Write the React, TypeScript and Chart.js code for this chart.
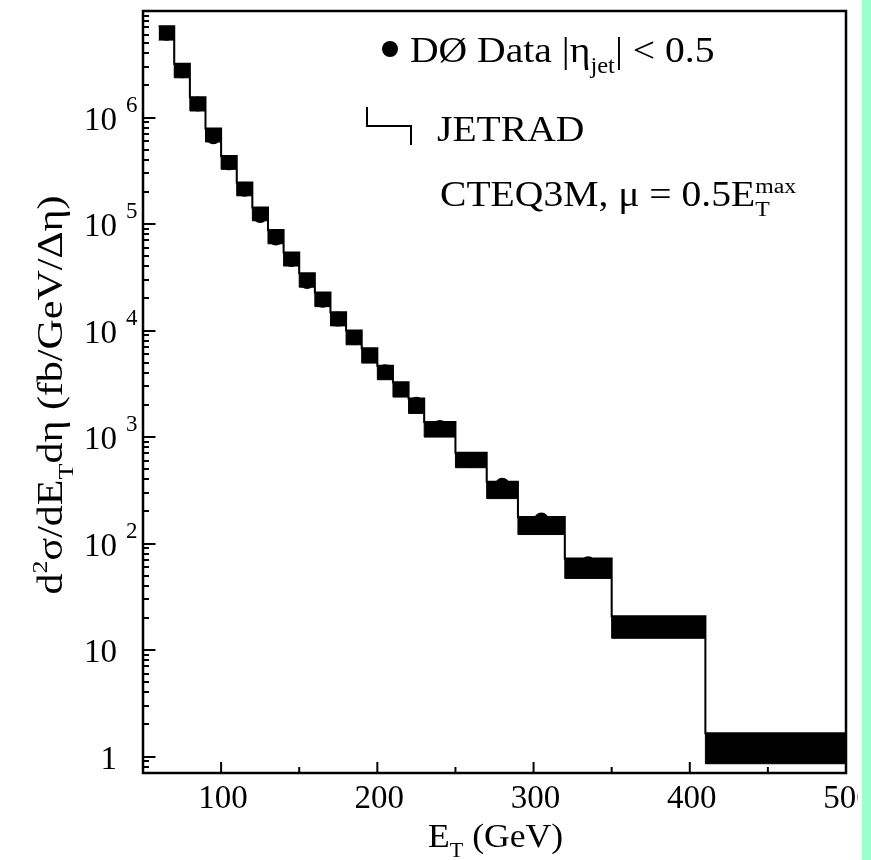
import React, { useEffect, useRef } from "react";
import { Chart, registerables } from "chart.js";

Chart.register(...registerables);

// ---- data ----
const binEdges = [60, 70, 80, 90, 100, 110, 120, 130, 140, 150, 160, 170, 180, 190, 200, 210, 220, 230, 250, 270, 290, 320, 350, 410, 500];
const jetradHigh = [7.2e6, 3.19e6, 1.546e6, 7.88e5, 4.36e5, 2.45e5, 1.428e5, 8.77e4, 5.41e4, 3.45e4, 2.28e4, 1.482e4, 9.98e3, 6.81e3, 4.67e3, 3.27e3, 2.3e3, 1380, 713, 381, 177.5, 72.3, 20.8, 1.657];
const jetradLow = [5.33e6, 2.36e6, 1.151e6, 5.89e5, 3.26e5, 1.84e5, 1.072e5, 6.52e4, 4.03e4, 2.55e4, 1.675e4, 1.105e4, 7.34e3, 4.94e3, 3.45e3, 2.37e3, 1.665e3, 998, 515, 264, 121.4, 47.0, 12.88, 0.855];
const dataET = [65, 75, 85, 95, 105, 115, 125, 135, 145, 155, 165, 175, 185, 195, 205, 215, 225, 240, 260, 280, 305, 335, 380, 455];
const dataXsec = [6.19e6, 2.75e6, 1.339e6, 6.61e5, 3.75e5, 2.12e5, 1.202e5, 7.38e4, 4.65e4, 2.89e4, 1.927e4, 1.279e4, 8.58e3, 5.82e3, 4.09e3, 2.79e3, 2.03e3, 1230, 606, 352, 166, 64.4, 16.4, 1.19];
const xTickLabels = [100, 200, 300, 400, 500];
const xMinorTicks = [150, 250, 350, 450];
const yDecadeExponents = [0, 1, 2, 3, 4, 5, 6];

const FONT = '"Liberation Serif", "Times New Roman", serif';

type Seg = { t: string; size: number; dy?: number; noAdvance?: boolean };

function richWidth(ctx: CanvasRenderingContext2D, segs: Seg[]) {
  let w = 0;
  for (const s of segs) {
    ctx.font = `${s.size}px ${FONT}`;
    if (!s.noAdvance) w += ctx.measureText(s.t).width;
  }
  return w;
}

function drawRich(ctx: CanvasRenderingContext2D, segs: Seg[], x: number, y: number, sx = 1) {
  ctx.save();
  ctx.translate(x, y);
  ctx.scale(sx, 1);
  let cx = 0;
  ctx.textAlign = "left";
  ctx.textBaseline = "alphabetic";
  for (const s of segs) {
    ctx.font = `${s.size}px ${FONT}`;
    ctx.fillText(s.t, cx, s.dy || 0);
    if (!s.noAdvance) cx += ctx.measureText(s.t).width;
  }
  ctx.restore();
}

const decorPlugin = {
  id: "decor",
  afterDraw(chart: any) {
    const ctx: CanvasRenderingContext2D = chart.ctx;
    const { left, right, top, bottom } = chart.chartArea;
    const xs = chart.scales.x;
    const ys = chart.scales.y;
    ctx.save();
    ctx.strokeStyle = "#000";
    ctx.fillStyle = "#000";

    // frame
    ctx.lineWidth = 2.5;
    ctx.strokeRect(left, top, right - left, bottom - top);

    // y ticks (inward)
    ctx.lineWidth = 2;
    for (let e = -1; e <= 7; e++) {
      for (let m = 1; m <= 9; m++) {
        const v = m * Math.pow(10, e);
        if (v < 0.7 || v > 1e7) continue;
        const py = Math.round(ys.getPixelForValue(v));
        const len = m === 1 ? 12.5 : 6;
        ctx.beginPath();
        ctx.moveTo(left, py);
        ctx.lineTo(left + len, py);
        ctx.stroke();
      }
    }
    // x ticks (inward)
    const allX = [...xTickLabels.filter((v) => v < 500), ...xMinorTicks];
    for (const v of allX) {
      const px = xs.getPixelForValue(v);
      const len = v % 100 === 0 ? 11 : 6;
      ctx.beginPath();
      ctx.moveTo(px, bottom);
      ctx.lineTo(px, bottom - len);
      ctx.stroke();
    }

    // y tick labels
    const TF = 33;
    for (const e of yDecadeExponents) {
      const py = ys.getPixelForValue(Math.pow(10, e));
      const base = py + 12;
      ctx.font = `${TF}px ${FONT}`;
      ctx.textAlign = "right";
      if (e === 0) {
        ctx.fillText("1", 117, base);
      } else {
        ctx.fillText("10", 117, base);
        if (e > 1) {
          ctx.font = `${23}px ${FONT}`;
          ctx.textAlign = "left";
          ctx.fillText(String(e), 126, base - 18);
        }
      }
    }
    // x tick labels
    ctx.font = `${TF}px ${FONT}`;
    ctx.textAlign = "center";
    for (const v of xTickLabels) {
      const px = xs.getPixelForValue(v);
      ctx.fillText(String(v), px + 2, 808);
    }

    // x title
    const XF = 33;
    drawRich(
      ctx,
      [
        { t: "E", size: XF },
        { t: "T", size: XF * 0.62, dy: XF * 0.3 },
        { t: " (GeV)", size: XF },
      ],
      428,
      847,
      1.08
    );

    // y title (rotated)
    const YF = 35;
    const ySx = 1.2;
    const ySegs: Seg[] = [
      { t: "d", size: YF },
      { t: "2", size: YF * 0.62, dy: -YF * 0.42 },
      { t: "σ/dE", size: YF },
      { t: "T", size: YF * 0.62, dy: YF * 0.3 },
      { t: "dη (fb/GeV/Δη)", size: YF },
    ];
    const yw = richWidth(ctx, ySegs) * ySx;
    ctx.save();
    ctx.translate(62, 395);
    ctx.rotate(-Math.PI / 2);
    drawRich(ctx, ySegs, -yw / 2, 0, ySx);
    ctx.restore();

    // legend
    const LF = 36;
    const lSx = 1.1;
    ctx.beginPath();
    ctx.arc(390, 49, 8, 0, Math.PI * 2);
    ctx.fill();
    drawRich(
      ctx,
      [
        { t: "DØ Data |η", size: LF },
        { t: "jet", size: LF * 0.62, dy: LF * 0.3 },
        { t: "| < 0.5", size: LF },
      ],
      410,
      62,
      lSx
    );
    ctx.lineWidth = 2;
    ctx.beginPath();
    ctx.moveTo(367, 107);
    ctx.lineTo(367, 126);
    ctx.lineTo(411, 126);
    ctx.lineTo(411, 145);
    ctx.stroke();
    drawRich(ctx, [{ t: "JETRAD", size: LF }], 437, 141, lSx);
    drawRich(
      ctx,
      [
        { t: "CTEQ3M, μ = 0.5E", size: LF },
        { t: "max", size: LF * 0.6, dy: -LF * 0.36, noAdvance: true },
        { t: "T", size: LF * 0.6, dy: LF * 0.28 },
      ],
      440,
      206,
      lSx
    );
    ctx.restore();
  },
};

export default function App() {
  const canvasRef = useRef<HTMLCanvasElement | null>(null);

  useEffect(() => {
    if (!canvasRef.current) return;
    const lowPts = binEdges.map((x, i) => ({ x, y: jetradLow[Math.min(i, jetradLow.length - 1)] }));
    const highPts = binEdges.map((x, i) => ({ x, y: jetradHigh[Math.min(i, jetradHigh.length - 1)] }));
    const dataPts = dataET.map((x, i) => ({ x, y: dataXsec[i] }));

    const chart = new Chart(canvasRef.current, {
      type: "line",
      data: {
        datasets: [
          {
            label: "JETRAD low",
            data: lowPts,
            stepped: true,
            borderColor: "#000",
            borderWidth: 1,
            pointRadius: 0,
            fill: false,
          },
          {
            label: "JETRAD CTEQ3M, μ = 0.5E_T^max",
            data: highPts,
            stepped: true,
            borderColor: "#000",
            borderWidth: 2,
            backgroundColor: "#000",
            pointRadius: 0,
            fill: "-1",
          },
          {
            label: "DØ Data |η_jet| < 0.5",
            data: dataPts,
            showLine: false,
            pointRadius: 7.5,
            pointBackgroundColor: "#000",
            pointBorderWidth: 0,
            borderColor: "#000",
          } as any,
        ],
      },
      options: {
        animation: false,
        responsive: false,
        events: [],
        layout: { padding: { left: 143, top: 11, right: 54, bottom: 87 } },
        plugins: { legend: { display: false }, tooltip: { enabled: false } },
        scales: {
          x: { type: "linear", min: 50, max: 500, display: false },
          y: { type: "logarithmic", min: 0.7, max: 1e7, display: false },
        },
      },
      plugins: [decorPlugin],
    });
    return () => chart.destroy();
  }, []);

  return (
    <>
      <div
        style={{
          position: "absolute",
          left: 0,
          top: 0,
          width: 858,
          height: 860,
          overflow: "hidden",
          background: "#fff",
        }}
      >
        <canvas ref={canvasRef} width={900} height={860} style={{ display: "block" }} />
      </div>
      <div
        style={{
          position: "absolute",
          left: 862,
          top: 0,
          width: 9,
          height: 860,
          background: "#99ffcc",
        }}
      />
    </>
  );
}
